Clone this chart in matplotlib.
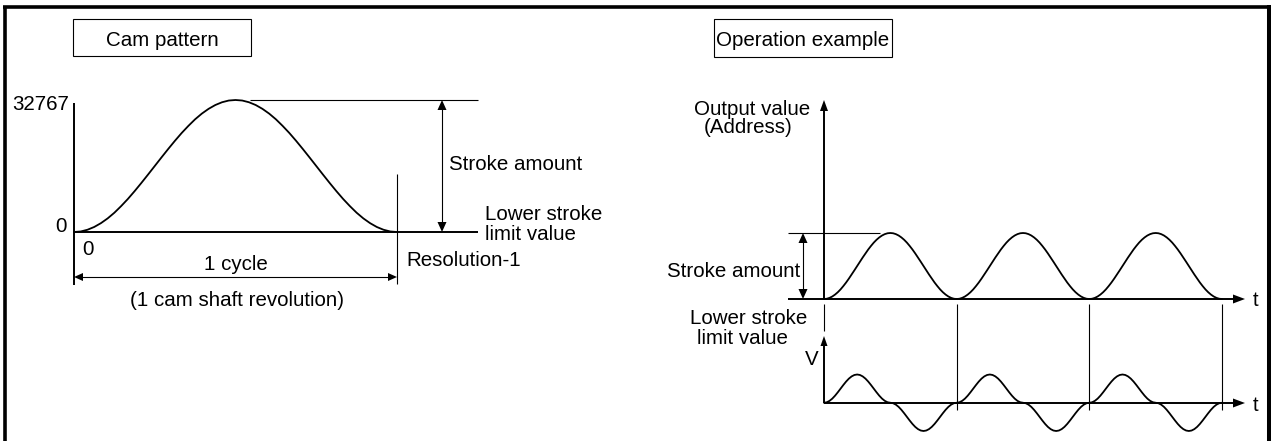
import numpy as np
import matplotlib
matplotlib.use("Agg")
import matplotlib.pyplot as plt
from matplotlib.patches import Rectangle

plt.rcParams['font.family'] = ['Liberation Sans', 'DejaVu Sans']

W, H = 1271, 441
FS = 14.8

# cam pattern over one revolution, stroke as a fraction of 32767
cam_profile = [0.000, 0.004, 0.017, 0.038, 0.067, 0.103, 0.146, 0.196, 0.250,
               0.309, 0.371, 0.435, 0.500, 0.565, 0.629, 0.691, 0.750, 0.804,
               0.854, 0.897, 0.933, 0.962, 0.983, 0.996, 1.000, 0.996, 0.983,
               0.962, 0.933, 0.897, 0.854, 0.804, 0.750, 0.691, 0.629, 0.565,
               0.500, 0.435, 0.371, 0.309, 0.250, 0.196, 0.146, 0.103, 0.067,
               0.038, 0.017, 0.004, 0.000]
stroke_max = 32767

# speed over one cycle: positive bump then negative bump
speed_profile = [0.000, 0.017, 0.067, 0.146, 0.250, 0.371, 0.500, 0.629, 0.750,
                 0.854, 0.933, 0.983, 1.000, 0.983, 0.933, 0.854, 0.750, 0.629,
                 0.500, 0.371, 0.250, 0.146, 0.067, 0.017, 0.000, -0.017, -0.067,
                 -0.146, -0.250, -0.371, -0.500, -0.629, -0.750, -0.854, -0.933,
                 -0.983, -1.000, -0.983, -0.933, -0.854, -0.750, -0.629, -0.500,
                 -0.371, -0.250, -0.146, -0.067, -0.017, 0.000]
n_cycles = 3

LW_AX = 1.4
LW_THIN = 0.8
LW_CURVE = 1.3

fig = plt.figure(figsize=(W / 100, H / 100), dpi=100)

# overlay in pixel coordinates for the drawing frame, arrows and text
ov = fig.add_axes([0, 0, 1, 1])
ov.set_xlim(0, W)
ov.set_ylim(H, 0)
ov.axis('off')


def px_axes(x0, y0, x1, y1):
    ax = fig.add_axes([x0 / W, 1 - y1 / H, (x1 - x0) / W, (y1 - y0) / H])
    ax.patch.set_alpha(0)
    ax.axis('off')
    return ax


def line(xs, ys, lw=LW_THIN):
    ov.plot(xs, ys, color='black', lw=lw, solid_capstyle='butt')


def head(tx, ty, dx, dy, length=10, width=8):
    bx, by = tx - dx * length, ty - dy * length
    px, py = -dy, dx
    ov.fill([tx, bx + px * width / 2, bx - px * width / 2],
            [ty, by + py * width / 2, by - py * width / 2],
            color='black', lw=0)


def label(x, y, s, ha='left'):
    ov.text(x, y, s, fontsize=FS, ha=ha, va='baseline')


def curve(ax, x, y):
    ax.plot(x, y, color='black', lw=LW_CURVE, clip_on=False,
            solid_joinstyle='round', solid_capstyle='round')


# frame
ov.plot([5, 5], [6.7, H], color='black', lw=2.6, solid_capstyle='butt')
ov.plot([3.3, 1271], [6.7, 6.7], color='black', lw=2.6, solid_capstyle='butt')
ov.plot([1269, 1269], [5, H], color='black', lw=2.9, solid_capstyle='butt')

# ---- left: cam pattern ----
ov.add_patch(Rectangle((73, 19), 178, 37, fill=False, lw=LW_THIN, ec='black'))
label(162, 46, 'Cam pattern', ha='center')

line([74, 74], [103, 285], lw=LW_AX)
line([74, 478], [232, 232], lw=LW_AX)
line([250, 478], [100, 100])
line([397, 397], [174, 284])

line([442, 442], [108, 224])
head(442, 100, 0, -1, 10, 9)
head(442, 232, 0, 1, 10, 9)

line([82, 389], [277, 277])
head(74, 277, -1, 0, 9, 8)
head(397, 277, 1, 0, 9, 8)

label(69, 110, '32767', ha='right')
label(67, 232, '0', ha='right')
label(82, 255, '0')
label(236, 270, '1 cycle', ha='center')
label(237, 306, '(1 cam shaft revolution)', ha='center')
label(449, 170, 'Stroke amount')
label(485, 220, 'Lower stroke')
label(485, 240, 'limit value')
label(406, 266, 'Resolution-1')

ax_cam = px_axes(74, 100, 397, 232)
ax_cam.set_xlim(0, 1)
ax_cam.set_ylim(0, stroke_max)
curve(ax_cam, np.linspace(0, 1, len(cam_profile)), np.array(cam_profile) * stroke_max)

# ---- right: operation example ----
ov.add_patch(Rectangle((714, 19), 178, 38, fill=False, lw=LW_THIN, ec='black'))
label(803, 46, 'Operation example', ha='center')

label(752, 115, 'Output value', ha='center')
label(748, 133, '(Address)', ha='center')

x0, x1 = 824, 1222
line([x0, x0], [108, 299], lw=LW_AX)
head(x0, 100, 0, -1, 11, 8)
line([788, 1235], [299, 299], lw=LW_AX)
head(1245, 299, 1, 0, 12, 9)
label(1253, 306.5, 't')

line([788, 880], [233, 233])
line([803, 803], [241, 291])
head(803, 233, 0, -1, 10, 9)
head(803, 299, 0, 1, 10, 9)
label(800, 277, 'Stroke amount', ha='right')
label(690, 324.5, 'Lower stroke')
label(697, 344, 'limit value')

step = (x1 - x0) / n_cycles
line([x0, x0], [304, 331])
for c in range(1, n_cycles + 1):
    line([x0 + c * step] * 2, [304, 410])

line([x0, x0], [344, 403], lw=LW_AX)
head(x0, 336, 0, -1, 10, 7)
line([x0, 1235], [403, 403], lw=LW_AX)
head(1245, 403, 1, 0, 12, 9)
label(1253, 411, 't')
label(812, 365, 'V', ha='center')

xs = np.concatenate([c + np.linspace(0, 1, len(cam_profile)) for c in range(n_cycles)])
ax_out = px_axes(x0, 233, x1, 299)
ax_out.set_xlim(0, n_cycles)
ax_out.set_ylim(0, 1)
curve(ax_out, xs, np.tile(cam_profile, n_cycles))

xv = np.concatenate([c + np.linspace(0, 1, len(speed_profile)) for c in range(n_cycles)])
ax_v = px_axes(x0, 374.5, x1, 431)
ax_v.set_xlim(0, n_cycles)
ax_v.set_ylim(-1, 1)
curve(ax_v, xv, np.tile(speed_profile, n_cycles))

fig.savefig('out.png', dpi=100)
